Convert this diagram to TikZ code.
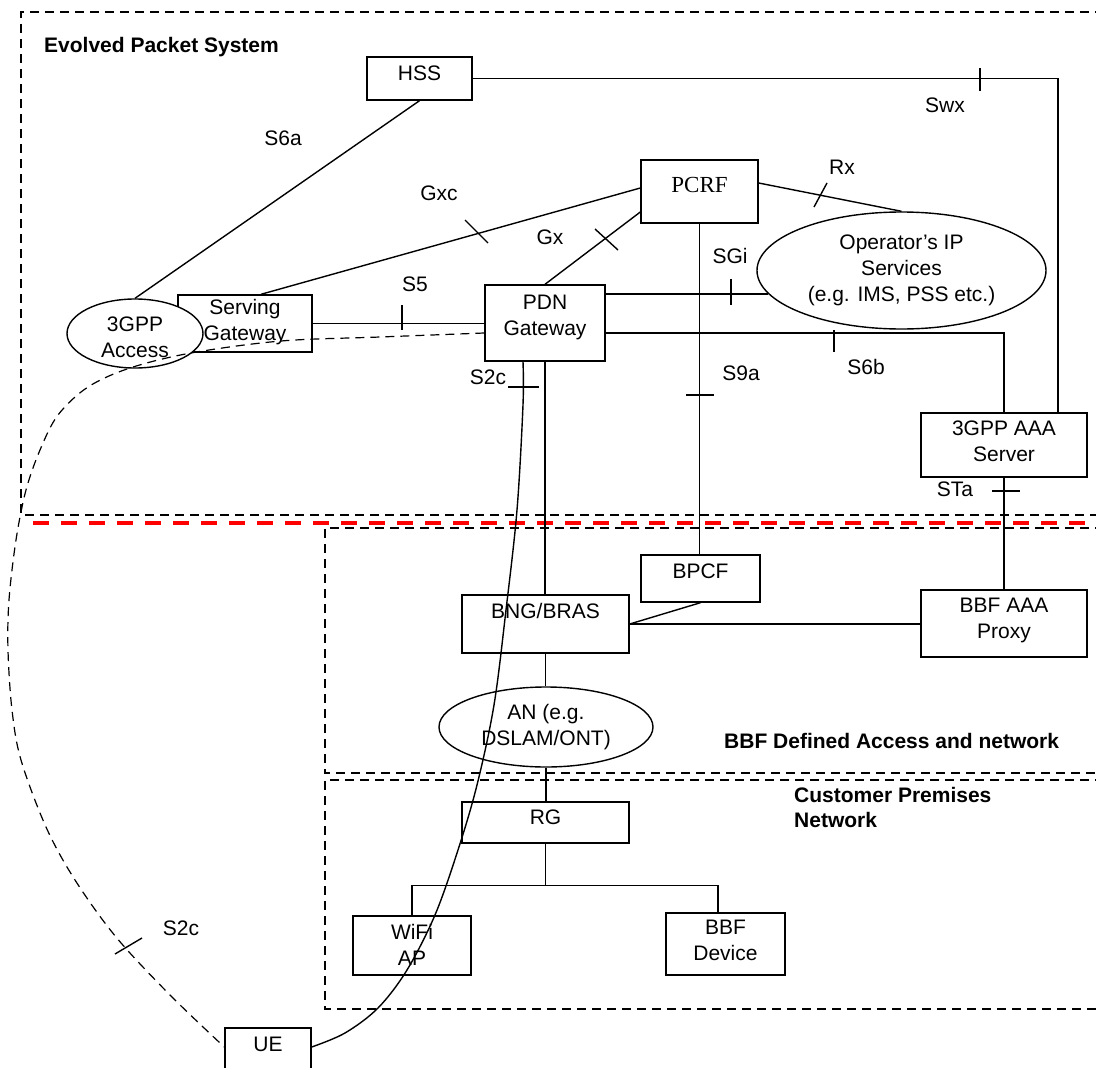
\documentclass[tikz,border=0pt]{standalone}
\usepackage{fontspec}
\setmainfont{Liberation Sans}
\newfontfamily\pcrffont{Liberation Serif}
\usetikzlibrary{shapes.geometric,calc}
\begin{document}
\begin{tikzpicture}[x=1pt,y=-1pt,
  every node/.style={font=\fontsize{21}{26}\selectfont, inner sep=0pt},
  box/.style n args={2}{draw, line width=1.4pt, rectangle, minimum width=#1 pt, minimum height=#2 pt},
  ell/.style n args={2}{draw, line width=1.4pt, ellipse, minimum width=#1 pt, minimum height=#2 pt},
  txt/.style={align=center, font=\fontsize{21}{26}\selectfont},
  ttl/.style={font=\fontsize{21}{25}\selectfont\bfseries, align=left},
  ln/.style={line width=1.4pt},
  tk/.style={line width=1.4pt},
  bdash/.style={line width=1.2pt, dash pattern=on 9pt off 6pt},
  cdash/.style={line width=1.2pt, dash pattern=on 9pt off 6pt},
  rdash/.style={line width=4.3pt, red, dash pattern=on 16pt off 12pt}
]
\useasboundingbox (0,0) rectangle (1096,1068);
\clip (0,0) rectangle (1096,1068);

% domain borders
\draw[bdash] (1104,12) -| (21,515) -- (1104,515);
\draw[bdash] (1104,528) -| (325,773) -- (1104,773);
\draw[bdash] (1104,780) -| (325,1009) -- (1104,1009);
\draw[rdash] (33,523) -- (1104,523);

% titles
\node[ttl, anchor=west] (epsT) at (44,47) {Evolved Packet System};
\node[ttl, anchor=west] (bbfT) at (724,741) {BBF Defined Access and network};
\node[ttl, anchor=north west] (cpnT) at (794,787) {Customer Premises\\Network};

% nodes
\node[box={105}{43}, label={[txt, name=hssT, yshift=5.5pt]center:HSS}] (hss) at (419.5,78.5) {};
\node[box={117}{63}, label={[name=pcrfT, yshift=6.5pt, font=\fontsize{23}{26}\pcrffont]center:PCRF}] (pcrf) at (699.5,191.5) {};
\node[box={134}{57}, label={[txt, name=sgwT, yshift=1pt]center:Serving\\Gateway}] (sgw) at (245,323.5) {};
\node[ell={136}{69}, fill=white, label={[txt, name=accT, yshift=-3.5pt]center:3GPP\\Access}] (acc) at (135,333.5) {};
\node[box={120}{76}, label={[txt, name=pgwT, yshift=6pt]center:PDN\\Gateway}] (pgw) at (545,323) {};
\node[ell={289}{117}, label={[txt, name=opsT, yshift=0pt]center:Operator’s IP\\Services\\(e.g. IMS, PSS etc.)}] (ops) at (901.5,270.5) {};
\node[box={166}{64}, label={[txt, name=aaaT, yshift=4pt]center:3GPP AAA\\Server}] (aaa) at (1004,445) {};
\node[box={119}{47}, label={[txt, name=bpcfT, yshift=7.5pt]center:BPCF}] (bpcf) at (700.5,578.5) {};
\node[box={167}{58}, label={[txt, name=bngT, yshift=13pt]center:BNG/BRAS}] (bng) at (545.5,624) {};
\node[box={166}{67}, label={[txt, name=proxyT, yshift=3pt]center:BBF AAA\\Proxy}] (proxy) at (1004,623.5) {};
\node[ell={214}{80}, label={[txt, name=anT, yshift=0pt]center:AN (e.g.\\DSLAM/ONT)}] (an) at (546,727) {};
\node[box={167}{41}, label={[txt, name=rgT, yshift=5.5pt]center:RG}] (rg) at (545.5,822.5) {};
\node[box={118}{59}, label={[txt, name=wifiT, yshift=1pt]center:WiFi\\AP}] (wifi) at (412,945.5) {};
\node[box={119}{62}, label={[txt, name=devT, yshift=3.5pt]center:BBF\\Device}] (dev) at (725.5,944) {};
\node[box={86}{47}, label={[txt, name=ueT, yshift=7.5pt]center:UE}] (ue) at (268,1051.5) {};

% helper coordinates
\coordinate (swxEnd) at ($(aaa.north)+(54,0)$);
\coordinate (sgwTop) at ($(sgw.north)+(16,0)$);
\coordinate (pcrfGxc) at ($(pcrf.west)+(0,-3.5)$);
\coordinate (pcrfGx) at ($(pcrf.west)+(0,20.5)$);
\coordinate (pcrfRx) at ($(pcrf.east)+(0,-8.5)$);
\coordinate (pgwS6b) at ($(pgw.east)+(0,10)$);
\coordinate (pgwS2c) at ($(pgw.south)+(-22,0)$);
\coordinate (pgwDash) at ($(pgw.west)+(0,10)$);
\coordinate (ueR) at ($(ue.east)+(0,-4.5)$);
\coordinate (ueL) at ($(ue.west)+(0,-4.5)$);
\coordinate (devIn) at ($(dev.north)+(-7.5,0)$);

% connectors
\draw[ln] (hss.south) -- (acc.north);
\draw[ln] (hss.east) -| (swxEnd);
\draw[ln] (sgwTop) -- (pcrfGxc);
\draw[ln] (pgw.north) -- (pcrfGx);
\draw[ln] (pcrfRx) -- (ops.north);
\draw[ln] (ops.190 -| pgw.east) -- (ops.190);
\draw[ln] (sgw.east) -- (sgw.east -| pgw.west);
\draw[ln] (pgw.south) -- (pgw.south |- bng.north);
\draw[ln] (pcrf.south) -- (pcrf.south |- bpcf.north);
\draw[ln] (pgwS6b) -| (aaa.north);
\draw[ln] (aaa.south) -- (proxy.north);
\draw[ln] (bpcf.south) -- (bng.east);
\draw[ln] (bng.east) -- (bng.east -| proxy.west);
\draw[ln] (bng.south) -- (bng.south |- an.north);
\draw[ln] (an.south) -- (an.south |- rg.north);
\draw[ln] (rg.south) -- ++(0,42) coordinate (bus);
\draw[ln] (wifi.north) |- (bus) -| (devIn);

% S2c solid curve PGW -> UE
\draw[ln] plot[smooth, tension=0.55] coordinates {(pgwS2c) (523,405) (517,510) (506,610) (494,705) (477,785) (458,850) (435,915) (407,970) (378,1008) (345,1033) (ueR)};
% S2c dashed curve PGW -> UE
\draw[cdash] plot[smooth, tension=0.55] coordinates {(pgwDash) (380,337) (281,341) (191,353) (130,368) (88,387) (58,415) (40,450) (26,490) (16,540) (9,600) (8,650) (12,710) (21,760) (46,827) (75,880) (116,937) (170,995) (ueL)};

% ticks
\draw[tk] (465,220) -- (488,243);
\draw[tk] (595,229) -- (618,250);
\draw[tk] (814,207) -- (827,183);
\draw[tk] (731,279) -- (731,305);
\draw[tk] (402,305) -- (402,330);
\draw[tk] (834,330) -- (834,352);
\draw[tk] (686,395) -- (714,395);
\draw[tk] (508,387) -- (539,387);
\draw[tk] (992,491) -- (1020,491);
\draw[tk] (980,68) -- (980,91);
\draw[tk] (115,954) -- (142,938);

% interface labels
\node (lS6a) at (283,138) {S6a};
\node (lGxc) at (439,193) {Gxc};
\node (lGx) at (550,237) {Gx};
\node (lRx) at (842,167) {Rx};
\node (lSGi) at (730,256) {SGi};
\node (lS5) at (415,284) {S5};
\node (lS2c) at (488,377) {S2c};
\node (lS9a) at (741,373) {S9a};
\node (lS6b) at (866,367) {S6b};
\node (lSwx) at (945,105) {Swx};
\node (lSTa) at (955,489) {STa};
\node (lS2cb) at (181,928) {S2c};
\end{tikzpicture}
\end{document}
